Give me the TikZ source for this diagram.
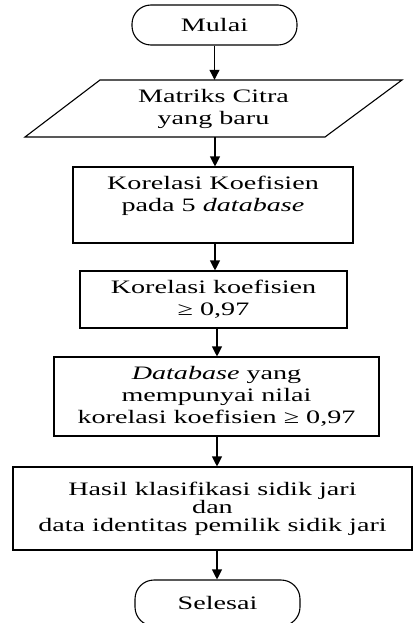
\documentclass[tikz,border=0pt]{standalone}
\usepackage{fontspec}
\setmainfont{Liberation Serif}[FakeStretch=1.48]
\usetikzlibrary{arrows.meta,calc}
\begin{document}
\begin{tikzpicture}[x=1pt,y=-1pt,
  every node/.style={font=\fontsize{19}{22}\selectfont, align=center, inner sep=0pt},
  shapebox/.style={draw, line width=1.1pt, rectangle},
  term/.style={draw, line width=1.1pt, rectangle, rounded corners=19pt},
  arr/.style={line width=1.1pt, -{Triangle[length=10pt,width=10pt]}}]
\useasboundingbox (0,0) rectangle (414,623);
\node[term, minimum width=165pt, minimum height=40pt] (mulai) at (214.5,25) {Mulai};
\draw[line width=1.1pt] (100,80) -- (402,80) -- (325,137) -- (25,137) -- cycle;
\node[minimum width=150pt, minimum height=57pt] (para) at (213.5,108.5) {Matriks Citra\\yang baru};
\node[shapebox, minimum width=280pt, minimum height=76pt] (b1) at (213,205) {Korelasi Koefisien\\pada 5 \textit{database}\\\mbox{}};
\node[shapebox, minimum width=267pt, minimum height=57pt] (b2) at (213.5,299.5) {Korelasi koefisien\\≥ 0,97};
\node[shapebox, minimum width=325pt, minimum height=79pt] (b3) at (216.5,396.5) {\textit{Database} yang\\mempunyai nilai\\korelasi koefisien ≥ 0,97};
\node[shapebox, minimum width=399pt, minimum height=83pt, font=\fontsize{19}{18}\selectfont] (b4) at (212.5,508.5) {Hasil klasifikasi sidik jari\\dan\\data identitas pemilik sidik jari};
\node[term, minimum width=165pt, minimum height=46pt] (selesai) at (217.5,603) {Selesai};
\coordinate (s1) at (215,137);
\coordinate (s2) at (215,243);
\coordinate (s3) at (217,328);
\coordinate (s4) at (217,436);
\coordinate (s5) at (217,550);
\draw[arr] (mulai.south) -- (mulai.south |- para.north);
\draw[arr] (s1) -- (s1 |- b1.north);
\draw[arr] (s2) -- (s2 |- b2.north);
\draw[arr] (s3) -- (s3 |- b3.north);
\draw[arr] (s4) -- (s4 |- b4.north);
\draw[arr] (s5) -- (s5 |- selesai.north);
\end{tikzpicture}
\end{document}
